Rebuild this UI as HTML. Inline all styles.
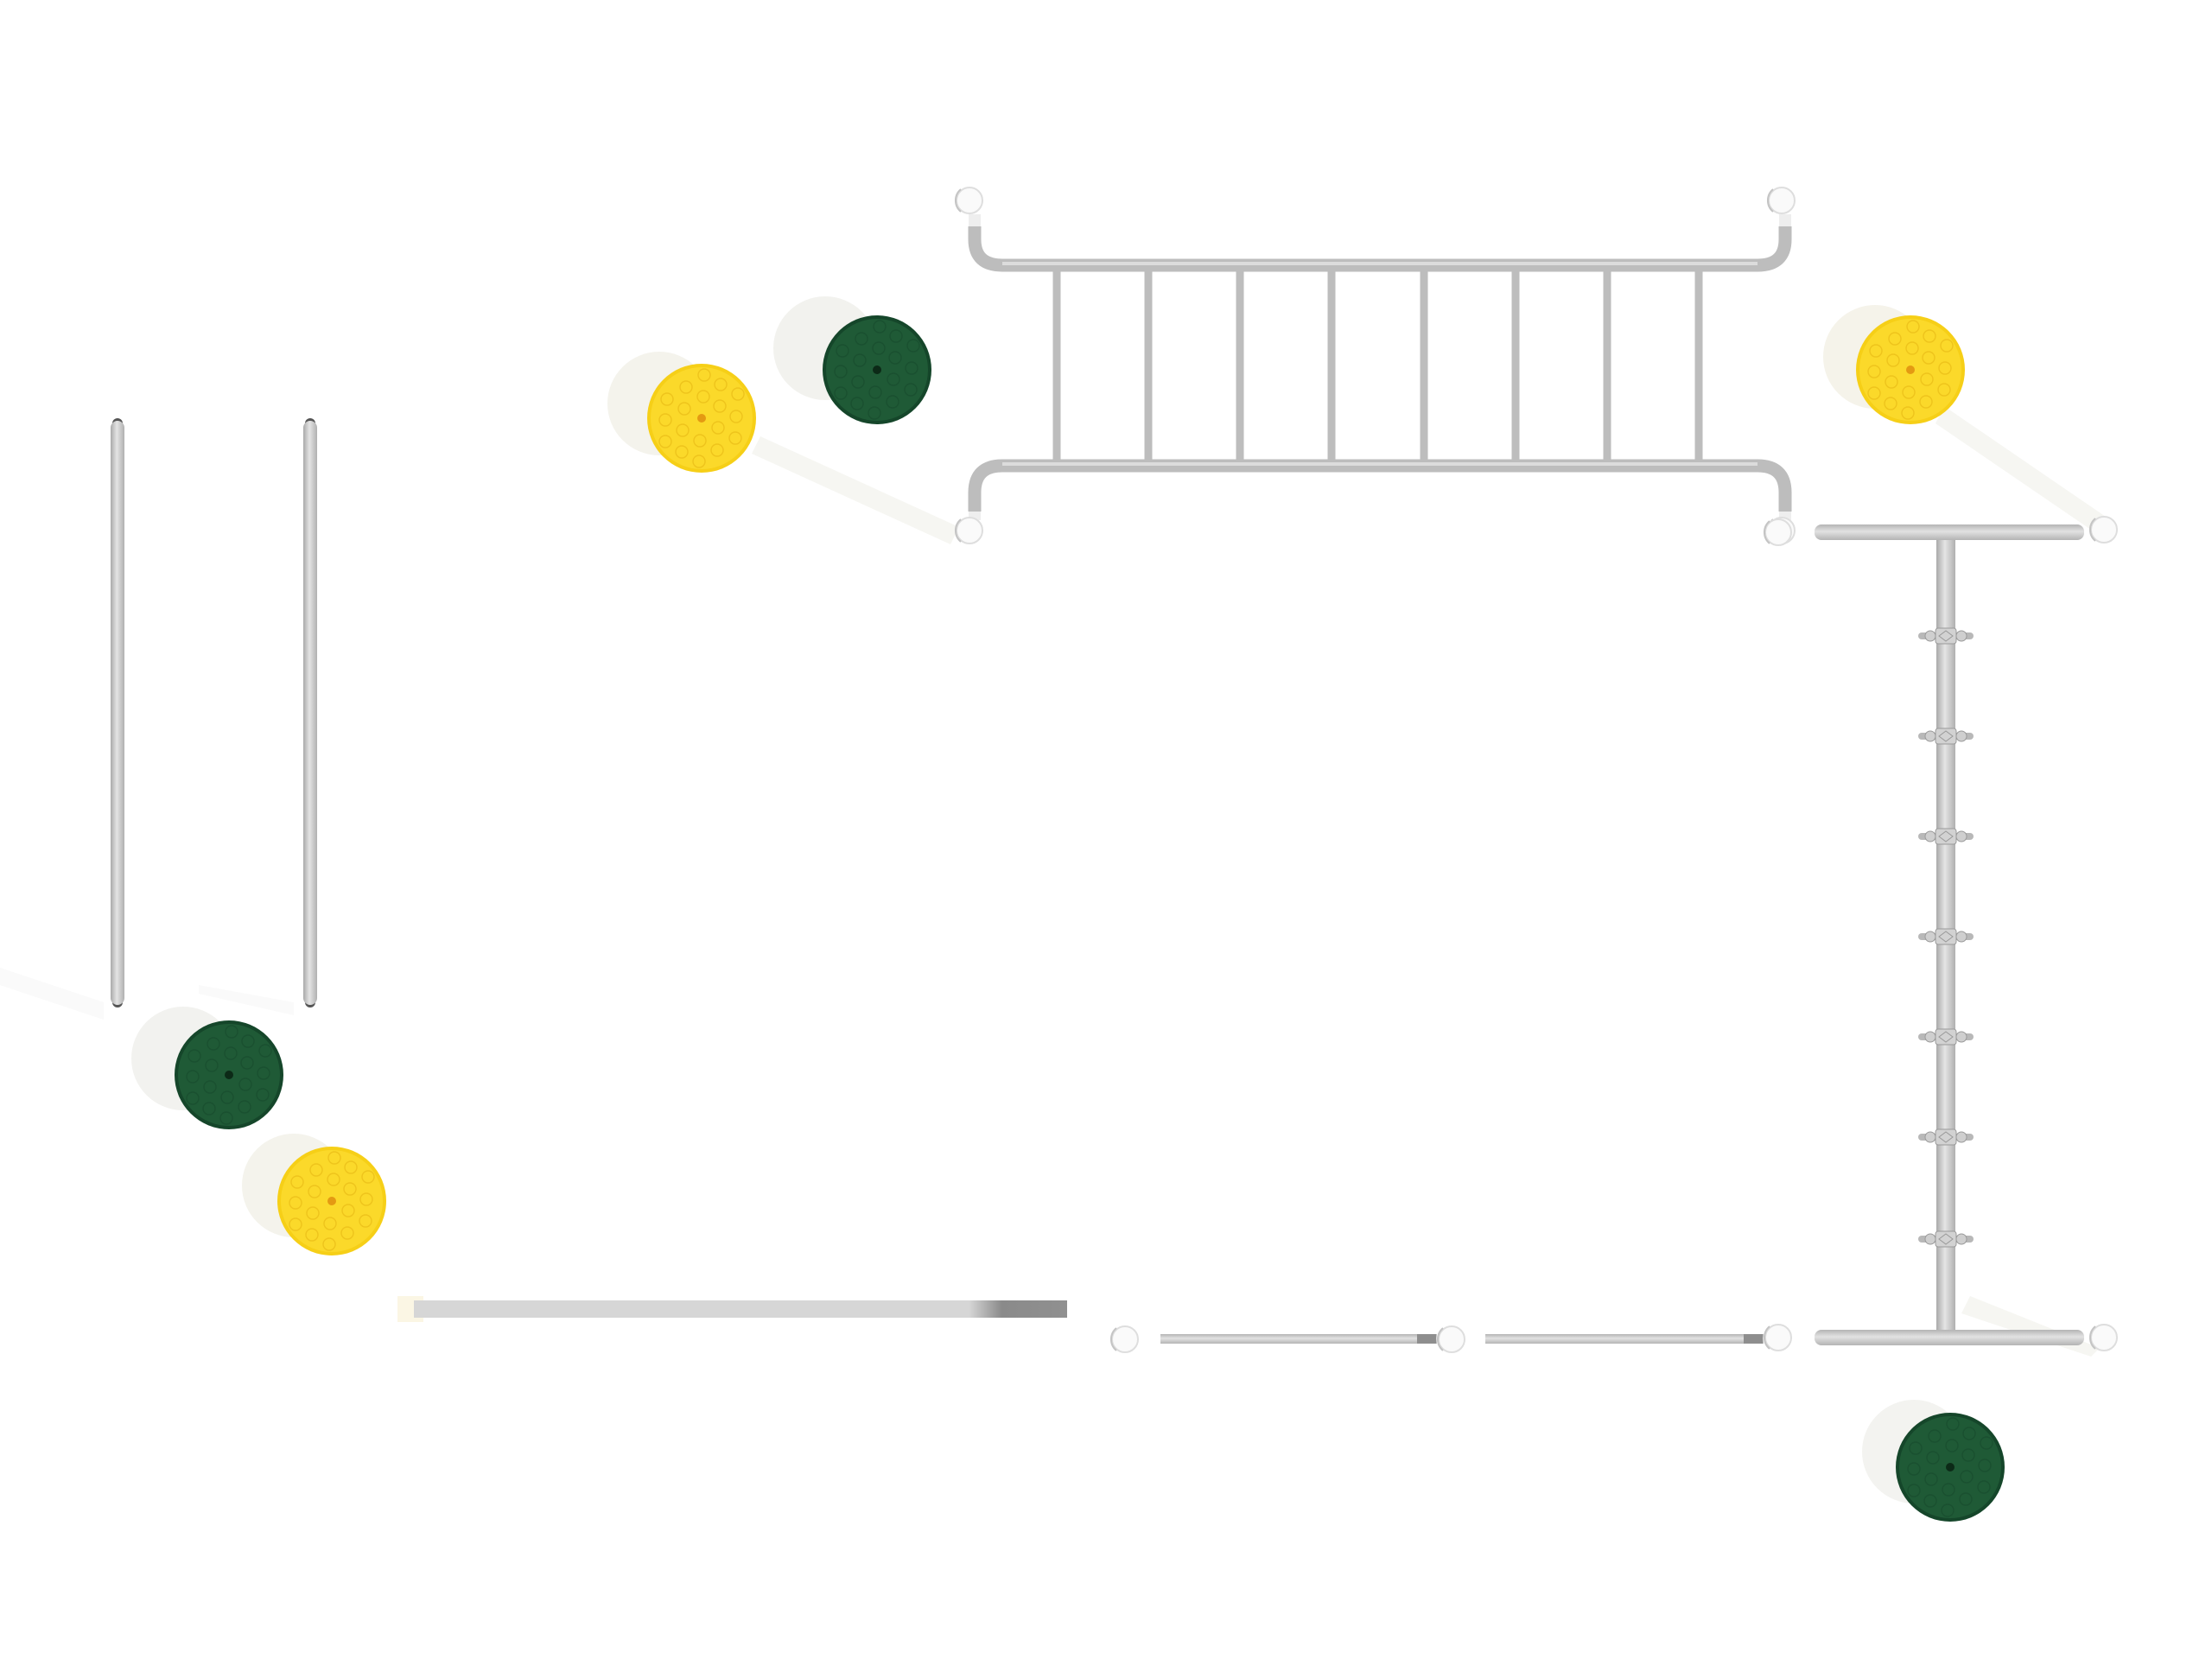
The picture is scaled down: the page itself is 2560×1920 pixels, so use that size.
<!DOCTYPE html>
<html><head><meta charset="utf-8"><style>html,body{margin:0;padding:0;background:#fff}svg{display:block}</style></head>
<body>
<svg width="2560" height="1920" viewBox="0 0 2560 1920" xmlns="http://www.w3.org/2000/svg">
<defs>
<linearGradient id="vg" x1="0" x2="1" y1="0" y2="0"><stop offset="0" stop-color="#a9a9a9"/><stop offset="0.45" stop-color="#e4e4e4"/><stop offset="1" stop-color="#b0b0b0"/></linearGradient>
<linearGradient id="hg" x1="0" x2="0" y1="0" y2="1"><stop offset="0" stop-color="#b4b4b4"/><stop offset="0.45" stop-color="#e2e2e2"/><stop offset="1" stop-color="#b4b4b4"/></linearGradient>
<linearGradient id="barEnd" x1="0" x2="1"><stop offset="0" stop-color="#d6d6d6"/><stop offset="0.85" stop-color="#d6d6d6"/><stop offset="0.9" stop-color="#8a8a8a"/><stop offset="1" stop-color="#909090"/></linearGradient>
<g id="dimples" fill="none" stroke-width="1.4">
<circle cx="3" cy="-50" r="7"/><circle cx="-18" cy="-36" r="7"/><circle cx="22" cy="-39" r="7"/><circle cx="42" cy="-28" r="7"/>
<circle cx="-40" cy="-22" r="7"/><circle cx="2" cy="-25" r="7"/><circle cx="-20" cy="-11" r="7"/><circle cx="21" cy="-14" r="7"/>
<circle cx="40" cy="-2" r="7"/><circle cx="-42" cy="2" r="7"/><circle cx="-22" cy="14" r="7"/><circle cx="19" cy="11" r="7"/>
<circle cx="39" cy="23" r="7"/><circle cx="-42" cy="27" r="7"/><circle cx="-2" cy="26" r="7"/><circle cx="-23" cy="39" r="7"/>
<circle cx="18" cy="37" r="7"/><circle cx="-3" cy="50" r="7"/>
</g>
<g id="ydisc">
<circle r="63" fill="#f6cf17"/><circle r="59" fill="#fbd92a"/>
<use href="#dimples" stroke="#eec41c"/>
<circle r="5" fill="#e49a12"/>
</g>
<g id="gdisc">
<circle r="63" fill="#15462a"/><circle r="59" fill="#1f5a36"/>
<use href="#dimples" stroke="#1a5030"/>
<circle r="5" fill="#0c2a17"/>
</g>
<g id="knob"><circle r="15" fill="#fafafa" stroke="#dedede" stroke-width="2"/><path d="M-10,-13 A17,17 0 0 0 -10,13" fill="none" stroke="#c4c4c4" stroke-width="2"/></g>
<g id="clamp"><rect x="-32" y="-4" width="64" height="8" rx="4" fill="#b8b8b8"/><circle cx="-18" cy="0" r="6" fill="#cfcfcf" stroke="#9a9a9a"/><circle cx="18" cy="0" r="6" fill="#cfcfcf" stroke="#9a9a9a"/><rect x="-12" y="-9" width="24" height="18" rx="3" fill="#d2d2d2" stroke="#9a9a9a"/><path d="M-8,0 L0,-6 L8,0 L0,6Z" fill="none" stroke="#999"/></g>
</defs>

<g fill="#f6f6f2">
<polygon points="880,505 1110,610 1100,630 870,525"/>
<polygon points="2250,470 2440,600 2430,620 2240,490"/>
<polygon points="2280,1500 2430,1560 2420,1570 2270,1520"/>
</g>
<g fill="#fafafa">
<polygon points="0,1120 120,1160 120,1180 0,1140"/>
<polygon points="230,1140 340,1160 340,1175 230,1150"/>
</g>
<circle cx="763" cy="467" r="60" fill="#f4f3ec"/>
<circle cx="955" cy="403" r="60" fill="#f2f2ee"/>
<circle cx="2170" cy="413" r="60" fill="#f5f3ea"/>
<circle cx="212" cy="1225" r="60" fill="#f2f2ef"/>
<circle cx="340" cy="1372" r="60" fill="#f4f3ec"/>
<circle cx="2215" cy="1680" r="60" fill="#f3f3f0"/>

<circle cx="136" cy="490" r="6" fill="#555"/><circle cx="136" cy="1160" r="6" fill="#555"/>
<circle cx="359" cy="490" r="6" fill="#555"/><circle cx="359" cy="1160" r="6" fill="#555"/>
<rect x="128" y="487" width="16" height="676" rx="8" fill="url(#vg)"/>
<rect x="351" y="487" width="16" height="676" rx="8" fill="url(#vg)"/>

<g fill="none" stroke="#bdbdbd" stroke-width="15" stroke-linecap="butt">
<path d="M1128,262 L1128,277 Q1128,307 1160,307 L2034,307 Q2066,307 2066,277 L2066,262"/>
<path d="M1128,592 L1128,570 Q1128,539 1160,539 L2034,539 Q2066,539 2066,570 L2066,592"/>
</g>
<g stroke="#eeeeee" stroke-width="14">
<line x1="1128" y1="248" x2="1128" y2="262"/><line x1="2066" y1="248" x2="2066" y2="262"/>
<line x1="1128" y1="592" x2="1128" y2="602"/><line x1="2066" y1="592" x2="2066" y2="602"/>
</g>
<g fill="none" stroke="#dcdcdc" stroke-width="4">
<path d="M1160,305 L2034,305"/><path d="M1160,537 L2034,537"/>
</g>
<g stroke="#bdbdbd" stroke-width="9">
<line x1="1223" y1="312" x2="1223" y2="533"/><line x1="1329" y1="312" x2="1329" y2="533"/>
<line x1="1435" y1="312" x2="1435" y2="533"/><line x1="1541" y1="312" x2="1541" y2="533"/>
<line x1="1648" y1="312" x2="1648" y2="533"/><line x1="1754" y1="312" x2="1754" y2="533"/>
<line x1="1860" y1="312" x2="1860" y2="533"/><line x1="1966" y1="312" x2="1966" y2="533"/>
</g>
<use href="#knob" x="1122" y="232"/><use href="#knob" x="2062" y="232"/>
<use href="#knob" x="1122" y="614"/><use href="#knob" x="2062" y="614"/>

<rect x="2241" y="616" width="22" height="932" fill="url(#vg)"/>
<rect x="2100" y="607" width="312" height="18" rx="8" fill="url(#hg)"/>
<rect x="2100" y="1539" width="312" height="18" rx="8" fill="url(#hg)"/>
<use href="#knob" x="2058" y="616"/><use href="#knob" x="2435" y="613"/>
<use href="#knob" x="2058" y="1548"/><use href="#knob" x="2435" y="1548"/>
<use href="#clamp" x="2252" y="736"/><use href="#clamp" x="2252" y="852"/>
<use href="#clamp" x="2252" y="968"/><use href="#clamp" x="2252" y="1084"/>
<use href="#clamp" x="2252" y="1200"/><use href="#clamp" x="2252" y="1316"/>
<use href="#clamp" x="2252" y="1434"/>

<rect x="1343" y="1544" width="320" height="11" fill="url(#hg)"/>
<rect x="1640" y="1544" width="22" height="11" fill="#8e8e8e"/>
<rect x="1719" y="1544" width="322" height="11" fill="url(#hg)"/>
<rect x="2018" y="1544" width="22" height="11" fill="#8e8e8e"/>
<use href="#knob" x="1302" y="1550"/><use href="#knob" x="1680" y="1550"/>

<rect x="460" y="1500" width="30" height="30" fill="#fbf6e4"/>
<rect x="479" y="1505" width="756" height="20" fill="url(#barEnd)"/>

<use href="#ydisc" x="812" y="484"/>
<use href="#gdisc" x="1015" y="428"/>
<use href="#ydisc" x="2211" y="428"/>
<use href="#gdisc" x="265" y="1244"/>
<use href="#ydisc" x="384" y="1390"/>
<use href="#gdisc" x="2257" y="1698"/>
</svg>
</body></html>
